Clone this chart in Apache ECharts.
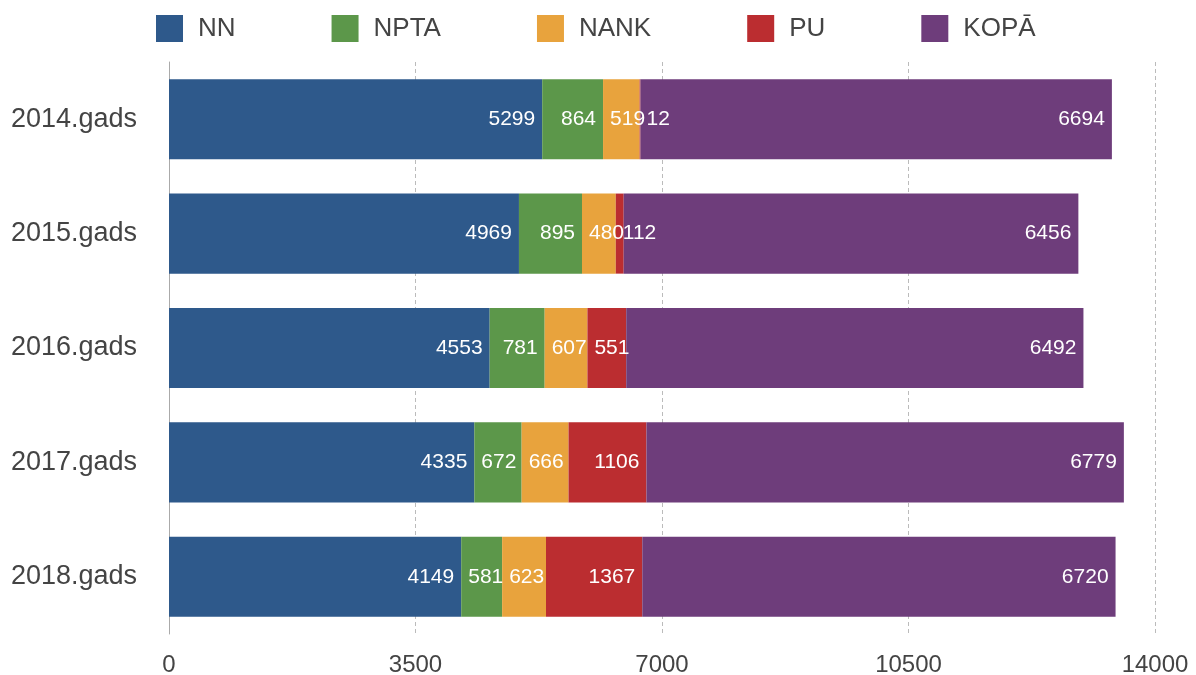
<!DOCTYPE html>
<html>
<head>
<meta charset="utf-8">
<script src="https://cdn.jsdelivr.net/npm/echarts@6/dist/echarts.min.js"></script>
<style>
html,body{margin:0;padding:0;background:#fff;}
#c{width:1196px;height:675px;}
</style>
</head>
<body>
<div id="c"></div>
<script>
const categories = ['2014.gads', '2015.gads', '2016.gads', '2017.gads', '2018.gads'];
const seriesNames = ['NN', 'NPTA', 'NANK', 'PU', 'KOPĀ'];
const nn   = [5299, 4969, 4553, 4335, 4149];
const npta = [864, 895, 781, 672, 581];
const nank = [519, 480, 607, 666, 623];
const pu   = [12, 112, 551, 1106, 1367];
const kopa = [6694, 6456, 6492, 6779, 6720];
const xTicks = [0, 3500, 7000, 10500, 14000];

const seriesValues = [nn, npta, nank, pu, kopa];
const colors = ['#2e598b', '#5c974a', '#e8a33d', '#bb2d30', '#6e3d7b'];
const FONT = '"Liberation Sans", Arial, Helvetica, sans-serif';
const LABEL_SIZE = 21;

const chart = echarts.init(document.getElementById('c'));

function buildSeries(positions) {
  return seriesNames.map((name, si) => ({
    name: name,
    type: 'bar',
    stack: 'total',
    barCategoryGap: '30%',
    itemStyle: { color: colors[si] },
    emphasis: { disabled: true },
    label: {
      show: true,
      position: 'insideRight',
      distance: 7,
      color: '#fff',
      fontSize: LABEL_SIZE,
      fontFamily: FONT,
      formatter: '{c}'
    },
    data: seriesValues[si].map((v, ci) => {
      const item = { value: v };
      if (positions) {
        item.label = { position: positions[si][ci], distance: 7 };
      }
      return item;
    })
  }));
}

const option = {
  animation: false,
  backgroundColor: '#fff',
  textStyle: { fontFamily: FONT },
  legend: {
    data: seriesNames,
    left: 156,
    top: 15,
    padding: 0,
    icon: 'rect',
    itemWidth: 27,
    itemHeight: 27,
    itemGap: 96,
    textStyle: { fontSize: 26, color: '#444', fontFamily: FONT, padding: [0, 0, 0, 10] }
  },
  grid: { left: 169, right: 41, top: 62, bottom: 41, containLabel: false, outerBoundsMode: 'none' },
  xAxis: {
    type: 'value',
    min: xTicks[0],
    max: xTicks[xTicks.length - 1],
    interval: xTicks[1] - xTicks[0],
    axisLine: { show: false },
    axisTick: { show: false },
    axisLabel: { fontSize: 24, color: '#444', margin: 19, fontFamily: FONT, formatter: v => String(v) },
    splitLine: { show: true, showMinLine: false, lineStyle: { color: '#bbb', type: [4, 3], width: 1 } }
  },
  yAxis: {
    type: 'category',
    data: categories,
    inverse: true,
    axisLine: { show: true, lineStyle: { color: '#aaa', width: 1 } },
    axisTick: { show: false },
    axisLabel: { fontSize: 27, color: '#444', margin: 32, fontFamily: FONT }
  },
  series: buildSeries(null)
};

chart.setOption(option);

// decide label placement: right-aligned inside if it fits, otherwise from bar start
const ctx = document.createElement('canvas').getContext('2d');
ctx.font = LABEL_SIZE + 'px ' + FONT;
const x0 = chart.convertToPixel({ xAxisIndex: 0 }, 0);
const positions = seriesValues.map(vals => vals.map(v => {
  const w = chart.convertToPixel({ xAxisIndex: 0 }, v) - x0;
  const tw = ctx.measureText(String(v)).width;
  return (w >= tw + 16) ? 'insideRight' : 'insideLeft';
}));
chart.setOption({ series: buildSeries(positions) });
</script>
</body>
</html>
